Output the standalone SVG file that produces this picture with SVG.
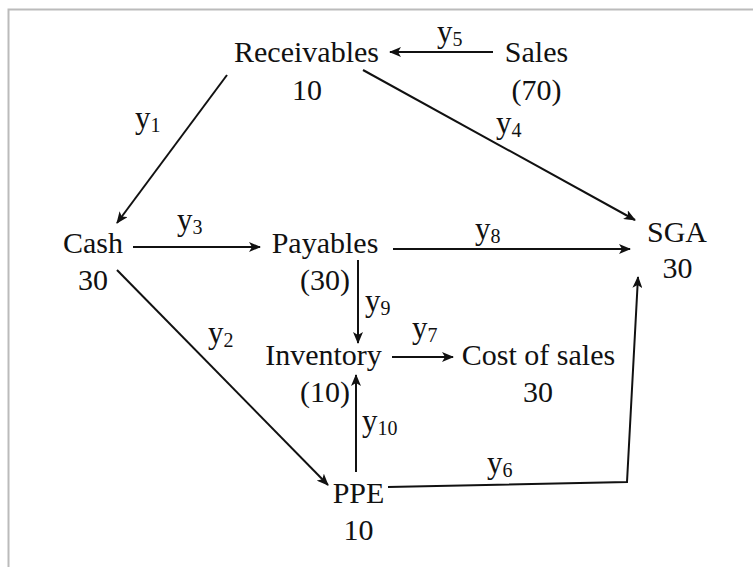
<svg xmlns="http://www.w3.org/2000/svg" width="753" height="567" viewBox="0 0 753 567">
<style>
.n{font-family:"Liberation Serif","Times New Roman",serif;font-size:30px;fill:#111;text-anchor:middle}
.l{font-family:"Liberation Serif","Times New Roman",serif;font-size:31px;fill:#111}
.s{font-size:20px}
.e{stroke:#111;stroke-width:2;fill:none;marker-end:url(#ah)}
</style>
<defs>
<marker id="ah" viewBox="0 0 12 10" refX="11" refY="5" markerWidth="12" markerHeight="10" markerUnits="userSpaceOnUse" orient="auto">
<path d="M0,0 L12,5 L0,10 L3,5 Z" fill="#111"/>
</marker>
</defs>
<rect width="753" height="567" fill="#fff"/>
<path d="M8.5,567 V9.5 H753" stroke="#bbb" stroke-width="2" fill="none"/>
<g id="connectors">
<line class="e" x1="493" y1="52" x2="390" y2="52"/>
<line class="e" x1="227" y1="75" x2="117" y2="223"/>
<line class="e" x1="363" y1="70" x2="635" y2="220"/>
<line class="e" x1="133" y1="247" x2="260" y2="247"/>
<line class="e" x1="393" y1="249" x2="630" y2="249"/>
<line class="e" x1="117" y1="270" x2="328" y2="485"/>
<line class="e" x1="358" y1="260" x2="358" y2="343"/>
<line class="e" x1="392" y1="357" x2="453" y2="357"/>
<line class="e" x1="356" y1="472" x2="356" y2="375"/>
<polyline class="e" points="388,487 627,482 638,277"/>
</g>
<g id="labels">
<text class="l" x="437" y="42">y<tspan class="s" dy="4">5</tspan></text>
<text class="l" x="135" y="128">y<tspan class="s" dy="4">1</tspan></text>
<text class="l" x="496" y="133">y<tspan class="s" dy="4">4</tspan></text>
<text class="l" x="177" y="230">y<tspan class="s" dy="4">3</tspan></text>
<text class="l" x="475" y="239">y<tspan class="s" dy="4">8</tspan></text>
<text class="l" x="365" y="311">y<tspan class="s" dy="4">9</tspan></text>
<text class="l" x="208" y="343">y<tspan class="s" dy="4">2</tspan></text>
<text class="l" x="412" y="338">y<tspan class="s" dy="4">7</tspan></text>
<text class="l" x="362" y="431">y<tspan class="s" dy="4">10</tspan></text>
<text class="l" x="487" y="473">y<tspan class="s" dy="4">6</tspan></text>
</g>
<g id="receivables"><text class="n" x="306.5" y="62">Receivables</text><text class="n" x="307" y="100">10</text></g>
<g id="sales"><text class="n" x="536.5" y="62">Sales</text><text class="n" x="536.5" y="100">(70)</text></g>
<g id="cash"><text class="n" x="93" y="253">Cash</text><text class="n" x="93" y="290">30</text></g>
<g id="payables"><text class="n" x="325" y="253">Payables</text><text class="n" x="325" y="290">(30)</text></g>
<g id="sga"><text class="n" x="677" y="242">SGA</text><text class="n" x="677.5" y="278">30</text></g>
<g id="inventory"><text class="n" x="323.5" y="365">Inventory</text><text class="n" x="325" y="402">(10)</text></g>
<g id="cost-of-sales"><text class="n" x="538.5" y="365">Cost of sales</text><text class="n" x="538" y="402">30</text></g>
<g id="ppe"><text class="n" x="358.5" y="503">PPE</text><text class="n" x="358.5" y="540">10</text></g>
</svg>
